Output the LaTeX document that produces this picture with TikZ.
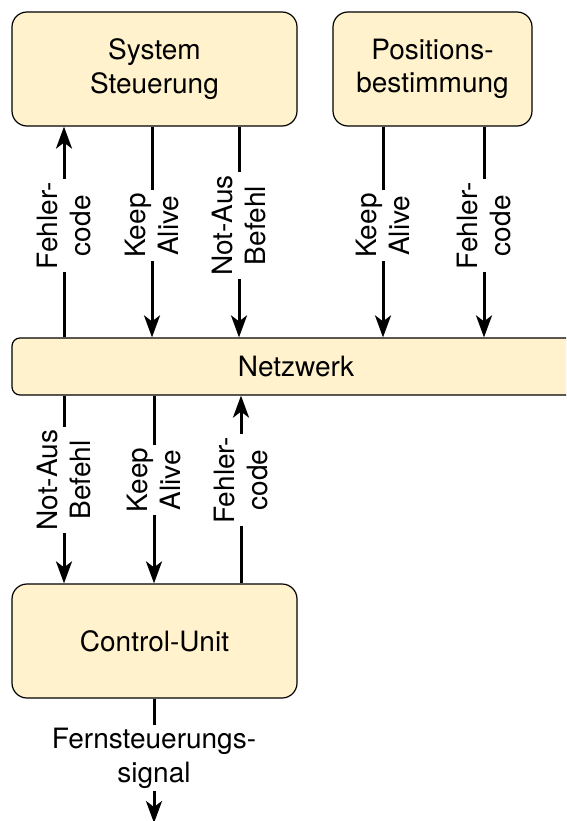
\documentclass[tikz,border=0pt]{standalone}
\usepackage{fontspec}
\setmainfont{TeX Gyre Heros}
\usetikzlibrary{arrows.meta}
\definecolor{boxfill}{HTML}{FFF2CC}
\begin{document}
\begin{tikzpicture}[x=1pt,y=1pt,
  txt/.style={font=\fontsize{28}{33.6}\selectfont},
  block/.style={txt, draw=black, line width=1.2pt, fill=boxfill,
    rounded corners=15pt, align=center, inner sep=0pt},
  flow/.style={line width=3pt, -{Stealth[length=22pt,width=16pt,inset=6pt]}},
  sig/.style={txt, rotate=90, fill=white, align=center, inner sep=3pt},
  outsig/.style={txt, fill=white, align=center, inner sep=3pt}]
\clip (0,0) rectangle (566,-821);

% blocks
\node[block, minimum width=285, minimum height=114] (sys) at (154.5,-69) {System\\Steuerung};
\node[block, minimum width=199, minimum height=114] (pos) at (432.5,-69) {Positions-\\bestimmung};
\node[block, rounded corners=8pt, minimum width=568, minimum height=57] (net) at (296,-366.5) {Netzwerk};
\node[block, minimum width=285, minimum height=114] (cu) at (154.5,-641) {Control-Unit};

% signal columns
\coordinate (cA) at (64,0);
\coordinate (cB) at (152,0);
\coordinate (cC) at (239,0);
\coordinate (cD) at (383,0);
\coordinate (cE) at (484,0);
\coordinate (dA) at (64,0);
\coordinate (dB) at (154,0);
\coordinate (dC) at (241,0);
\coordinate (out) at (154,-823);

% upper signals
\draw[flow] (net.north -| cA) -- node[sig, pos=0.53] {Fehler-\\code} (sys.south -| cA);
\draw[flow] (sys.south -| cB) -- node[sig, pos=0.47] {Keep\\Alive} (net.north -| cB);
\draw[flow] (sys.south -| cC) -- node[sig, pos=0.47] {Not-Aus\\Befehl} (net.north -| cC);
\draw[flow] (pos.south -| cD) -- node[sig, pos=0.47] {Keep\\Alive} (net.north -| cD);
\draw[flow] (pos.south -| cE) -- node[sig, pos=0.47] {Fehler-\\code} (net.north -| cE);

% lower signals
\draw[flow] (net.south -| dA) -- node[sig, pos=0.45] {Not-Aus\\Befehl} (cu.north -| dA);
\draw[flow] (net.south -| dB) -- node[sig, pos=0.45] {Keep\\Alive} (cu.north -| dB);
\draw[flow] (cu.north -| dC) -- node[sig, pos=0.55] {Fehler-\\code} (net.south -| dC);

% output
\draw[flow] (cu.south -| out) -- node[outsig, pos=0.48] {Fernsteuerungs-\\signal} (out);
\end{tikzpicture}
\end{document}
